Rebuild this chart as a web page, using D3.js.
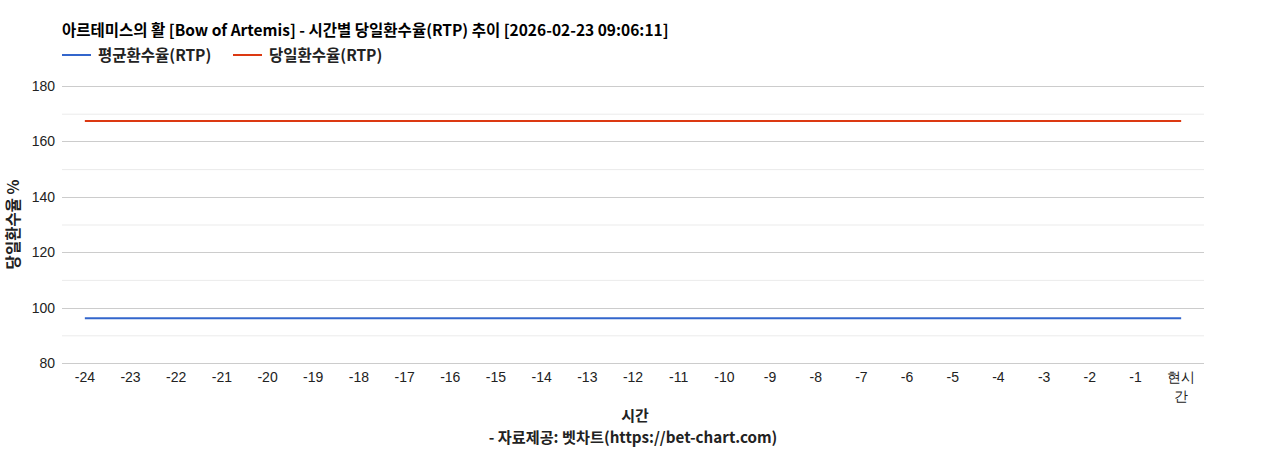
<!doctype html>
<html>
  <head>
    <meta charset="utf-8">
    <script src="https://cdn.jsdelivr.net/npm/d3@7"></script>
    <style>
      body { margin: 0; background: #fff; }
      text { font-family: "Liberation Sans", Arial, sans-serif; }
      .kr { font-family: "Noto Sans CJK KR", sans-serif; font-weight: bold; }
    </style>
  </head>
  <body>
    <script>
      // chart values
      var hours = ["-24","-23","-22","-21","-20","-19","-18","-17","-16","-15","-14","-13",
                   "-12","-11","-10","-9","-8","-7","-6","-5","-4","-3","-2","-1","현시간"];
      var avg_rtp = [96.2,96.2,96.2,96.2,96.2,96.2,96.2,96.2,96.2,96.2,96.2,96.2,
                     96.2,96.2,96.2,96.2,96.2,96.2,96.2,96.2,96.2,96.2,96.2,96.2,96.2];
      var day_rtp = [167.4,167.4,167.4,167.4,167.4,167.4,167.4,167.4,167.4,167.4,167.4,167.4,
                     167.4,167.4,167.4,167.4,167.4,167.4,167.4,167.4,167.4,167.4,167.4,167.4,167.4];
      var y_ticks = [80,100,120,140,160,180];
      var y_minor = [90,110,130,150,170];
      var series_names = ["평균환수율(RTP)","당일환수율(RTP)"];
      var series_colors = ["#3366cc","#dc3912"];

      var w_svg = 1268, h_svg = 450;
      var left = 62, right = 1204, top_y = 86, bottom_y = 363;

      var svg = d3.select("body").append("svg")
                  .attr("width", w_svg)
                  .attr("height", h_svg);

      var x = d3.scalePoint().domain(hours).range([left, right]).padding(0.5);
      var y = d3.scaleLinear().domain([80, 180]).range([bottom_y, top_y]);

      // minor grid
      svg.selectAll(".minor").data(y_minor).enter().append("line")
         .attr("x1", left).attr("x2", right)
         .attr("y1", function(d){ return y(d) + 0.5; })
         .attr("y2", function(d){ return y(d) + 0.5; })
         .attr("stroke", "#ebebeb");

      // major grid
      svg.selectAll(".major").data(y_ticks).enter().append("line")
         .attr("x1", left).attr("x2", right)
         .attr("y1", function(d){ return Math.round(y(d)) + 0.5; })
         .attr("y2", function(d){ return Math.round(y(d)) + 0.5; })
         .attr("stroke", "#cccccc");

      // y tick labels
      svg.selectAll(".ylab").data(y_ticks).enter().append("text")
         .attr("x", left - 7)
         .attr("y", function(d){ return y(d) + 5; })
         .attr("text-anchor", "end")
         .attr("font-size", 14)
         .attr("fill", "#222")
         .text(function(d){ return d; });

      // x tick labels
      svg.selectAll(".xlab").data(hours).enter().append("text")
         .attr("x", function(d){ return x(d); })
         .attr("y", bottom_y + 19)
         .attr("text-anchor", "middle")
         .attr("font-size", 14)
         .attr("fill", "#222")
         .each(function(d){
            var t = d3.select(this);
            if (d.length > 2 && d.indexOf("-") < 0) {
              t.append("tspan").attr("x", x(d)).text(d.slice(0, 2));
              t.append("tspan").attr("x", x(d)).attr("dy", 19).text(d.slice(2));
            } else {
              t.text(d);
            }
         });

      // lines
      var line = d3.line()
                   .x(function(d, i){ return x(hours[i]); })
                   .y(function(d){ return y(d); });
      [avg_rtp, day_rtp].forEach(function(s, k){
        svg.append("path")
           .datum(s)
           .attr("d", line)
           .attr("fill", "none")
           .attr("stroke", series_colors[k])
           .attr("stroke-width", 2);
      });

      // title
      svg.append("text").attr("class", "kr")
         .attr("x", left).attr("y", 36)
         .attr("font-size", 15.5).attr("fill", "#000")
         .text("아르테미스의 활 [Bow of Artemis] - 시간별 당일환수율(RTP) 추이 [2026-02-23 09:06:11]");

      // legend
      var lx = [left, 233];
      series_names.forEach(function(n, k){
        svg.append("line")
           .attr("x1", lx[k]).attr("x2", lx[k] + 29)
           .attr("y1", 55).attr("y2", 55)
           .attr("stroke", series_colors[k]).attr("stroke-width", 2);
        svg.append("text").attr("class", "kr")
           .attr("x", lx[k] + 36).attr("y", 60.5)
           .attr("font-size", 15.5).attr("fill", "#222")
           .text(n);
      });

      // axis titles
      svg.append("text").attr("class", "kr")
         .attr("transform", "translate(19," + ((top_y + bottom_y) / 2) + ") rotate(-90)")
         .attr("text-anchor", "middle")
         .attr("font-size", 15.5).attr("fill", "#222")
         .text("당일환수율 %");

      svg.append("text").attr("class", "kr")
         .attr("x", (left + right) / 2 + 2).attr("y", 421)
         .attr("text-anchor", "middle")
         .attr("font-size", 15).attr("fill", "#222")
         .text("시간");

      svg.append("text").attr("class", "kr")
         .attr("x", (left + right) / 2).attr("y", 443)
         .attr("text-anchor", "middle")
         .attr("font-size", 15.2).attr("fill", "#222")
         .text("- 자료제공: 벳차트(https://bet-chart.com)");
    </script>
  </body>
</html>
